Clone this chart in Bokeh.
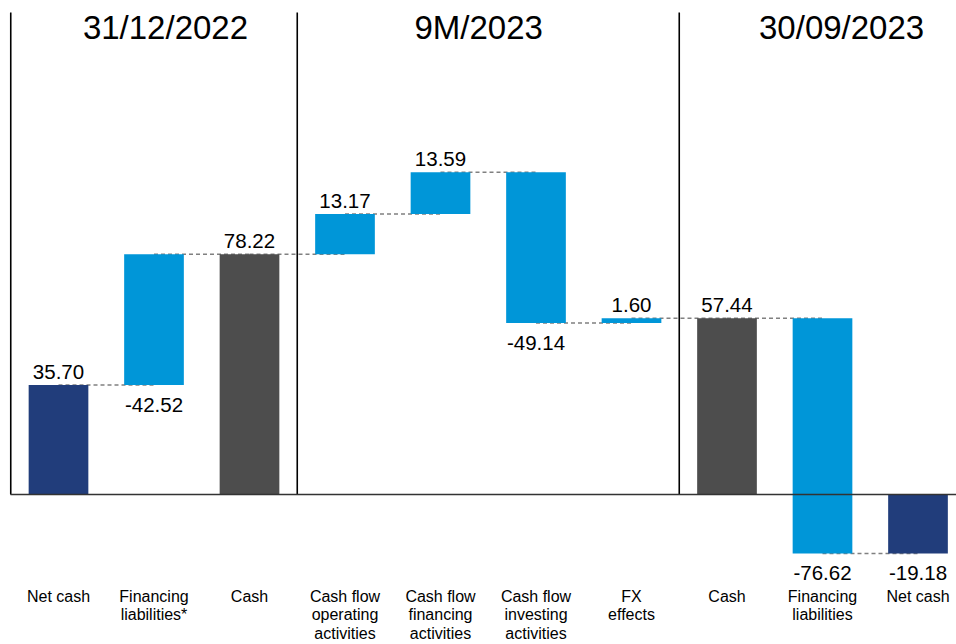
from bokeh.plotting import figure
from bokeh.models import Range1d
from bokeh.core.properties import value
from bokeh.embed import file_html
from bokeh.resources import INLINE

# ---- data ----
categories = ["Net cash", "Financing\nliabilities*", "Cash",
              "Cash flow\noperating\nactivities", "Cash flow\nfinancing\nactivities",
              "Cash flow\ninvesting\nactivities", "FX\neffects", "Cash",
              "Financing\nliabilities", "Net cash"]
values = [35.70, -42.52, 78.22, 13.17, 13.59, -49.14, 1.60, 57.44, -76.62, -19.18]
# 0 = total bar from zero, +1 / -1 = step added / subtracted from running level
step_sign = [0, -1, 0, 1, 1, 1, 1, 0, 1, 0]
kinds = ["net", "step", "cash", "step", "step", "step", "step", "cash", "step", "net"]
period_titles = ["31/12/2022", "9M/2023", "30/09/2023"]
period_centers = [1.12, 4.40, 8.20]
separators = [-0.5, 2.5, 6.5]

colors = {"net": "#213D7B", "step": "#0096D8", "cash": "#4D4D4D"}

# ---- waterfall geometry ----
bottoms, tops, ends = [], [], []
level = 0.0
for v, s in zip(values, step_sign):
    if s == 0:
        start, end = 0.0, v
    else:
        start, end = level, level + s * v
    level = end
    bottoms.append(min(start, end))
    tops.append(max(start, end))
    ends.append(end)

xs = list(range(len(values)))

W, H = 956, 644
px_per_unit = 3.07
zero_px = 494
y_top = zero_px / px_per_unit
y_bot = -(H - zero_px) / px_per_unit
x_left = -58 / 95.5
x_right = (W - 58) / 95.5

p = figure(width=W, height=H, output_backend="svg", toolbar_location=None,
           x_range=Range1d(x_left, x_right), y_range=Range1d(y_bot, y_top),
           min_border=0, background_fill_color="#FFFFFF", border_fill_color="#FFFFFF")
p.axis.visible = False
p.grid.visible = False
p.outline_line_color = None

# connectors
p.segment(x0=xs[:-1], x1=xs[1:], y0=ends[:-1], y1=ends[:-1],
          line_color="#808080", line_width=1.5, line_dash="4 3")

# bars
p.vbar(x=xs, width=0.625, bottom=bottoms, top=tops,
       fill_color=[colors[k] for k in kinds], line_color=None)

# separators and zero line
p.segment(x0=separators, x1=separators, y0=[0] * 3, y1=[157.0] * 3,
          line_color="#000000", line_width=1.6)
p.segment(x0=[-0.503], x1=[x_right], y0=[0], y1=[0], line_color="#333333", line_width=1.5)

# value labels
up_x, up_y, up_t, dn_x, dn_y, dn_t = [], [], [], [], [], []
for i, v in enumerate(values):
    if v >= 0:
        up_x.append(i); up_y.append(tops[i]); up_t.append(f"{v:.2f}")
    else:
        dn_x.append(i); dn_y.append(bottoms[i]); dn_t.append(f"{v:.2f}")
p.text(x=up_x, y=up_y, text=up_t, text_align="center", text_baseline="bottom",
       y_offset=-6, text_font=value("Liberation Sans"), text_font_size="20.5px",
       text_color="#000000")
p.text(x=dn_x, y=dn_y, text=dn_t, text_align="center", text_baseline="top",
       y_offset=13, text_font=value("Liberation Sans"), text_font_size="20.5px",
       text_color="#000000")

# category labels
p.text(x=xs, y=[-30.4] * len(xs), text=categories, text_align="center",
       text_baseline="top", text_font=value("Liberation Sans"), text_font_size="16px",
       text_line_height=1.08, text_color="#000000")

# period titles
p.text(x=period_centers, y=[152.1] * 3, text=period_titles, text_align="center",
       text_baseline="middle", text_font=value("Liberation Sans"), text_font_size="33px",
       text_color="#000000")

open("out.html", "w").write(file_html(p, INLINE))
